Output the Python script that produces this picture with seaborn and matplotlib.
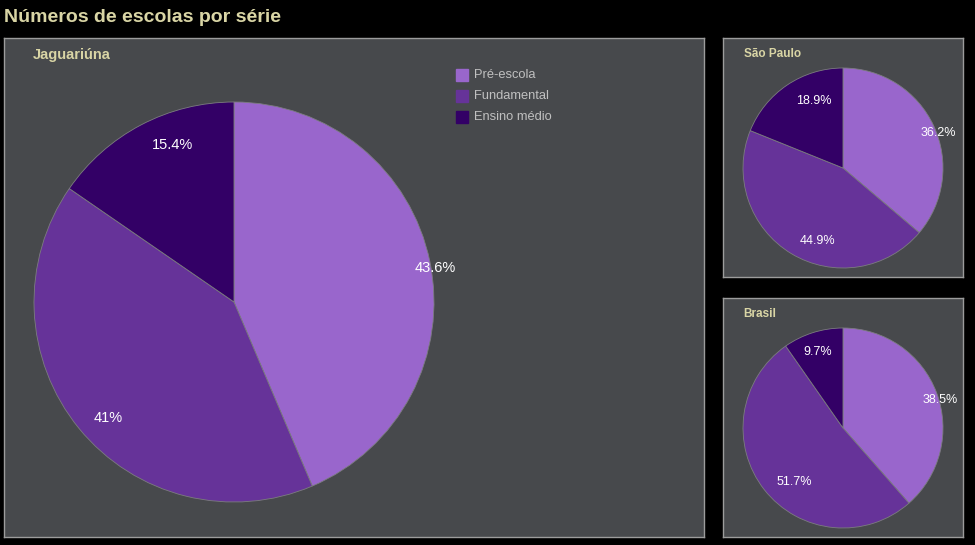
import matplotlib
matplotlib.use("Agg")
import matplotlib.pyplot as plt
import seaborn as sns
import numpy as np

categories = ["Pré-escola", "Fundamental", "Ensino médio"]
regions = ["Jaguariúna", "São Paulo", "Brasil"]
jaguariuna = [43.6, 41.0, 15.4]
sao_paulo = [36.2, 44.9, 18.9]
brasil = [38.5, 51.7, 9.7]
pct_labels = {
    "Jaguariúna": ["43.6%", "41%", "15.4%"],
    "São Paulo": ["36.2%", "44.9%", "18.9%"],
    "Brasil": ["38.5%", "51.7%", "9.7%"],
}

sns.set_theme(style="dark")
plt.rcParams["font.family"] = ["Liberation Sans", "DejaVu Sans"]

colors = sns.color_palette(["#9966cc", "#663399", "#330066"])
BG = "#000000"
PANEL = "#47494c"
BORDER = "#9c9c9c"
TITLE_C = "#d9d5a5"

W, H = 975, 545
fig = plt.figure(figsize=(W / 100, H / 100), dpi=100, facecolor=BG)

def panel(x0, y0, x1, y1):
    return fig.add_axes([x0 / W, (H - y1) / H, (x1 - x0) / W, (y1 - y0) / H])

def finish(ax, w, h):
    ax.set_facecolor(PANEL)
    ax.set_frame_on(True)
    ax.set_aspect("auto")
    ax.set_xlim(0, w)
    ax.set_ylim(0, h)
    ax.set_xticks([])
    ax.set_yticks([])
    ax.grid(False)
    for s in ax.spines.values():
        s.set_visible(True)
        s.set_color(BORDER)
        s.set_linewidth(1)

def draw_pie(ax, values, labels, center, radius, dists, offs, fs):
    ax.pie(values, colors=colors, startangle=90, counterclock=False,
           center=center, radius=radius, normalize=True, frame=True,
           wedgeprops=dict(edgecolor="#7c7c80", linewidth=0.6))
    total = sum(values)
    cum = 0
    for v, lab, d, (ox, oy) in zip(values, labels, dists, offs):
        mid = np.deg2rad(90 - (cum + v / 2) / total * 360)
        cum += v
        ax.text(center[0] + d * radius * np.cos(mid) + ox,
                center[1] + d * radius * np.sin(mid) - oy,
                lab, color="white", fontsize=fs, ha="center", va="center")

# main panel
ax1 = panel(4, 38, 704, 537)
draw_pie(ax1, jaguariuna, pct_labels["Jaguariúna"], (230, 235), 200,
         [1.02, 0.85, 0.85], [(1, 7), (6, 8), (18, -7)], 10.5)
finish(ax1, 700, 499)
ax1.text(29, 482, "Jaguariúna", color=TITLE_C, fontsize=10.5, fontweight="bold", ha="left", va="center")
for i, c in enumerate(categories):
    y = 462 - i * 21
    ax1.add_patch(plt.Rectangle((452, y - 6), 12, 12, color=colors[i]))
    ax1.text(470, y, c, color="#c0c0c0", fontsize=9.3, ha="left", va="center")

ax2 = panel(723, 38, 963, 277)
draw_pie(ax2, sao_paulo, pct_labels["São Paulo"], (120, 109), 100,
         [1.0, 0.75, 0.76], [(5, 7), (13, 9), (13, -4)], 9)
finish(ax2, 240, 239)
ax2.text(21, 223, "São Paulo", color=TITLE_C, fontsize=8.5, fontweight="bold", ha="left", va="center")

ax3 = panel(723, 298, 963, 537)
draw_pie(ax3, brasil, pct_labels["Brasil"], (120, 109), 100,
         [1.0, 0.72, 0.8], [(4, 7), (8, 10), (-1, 0)], 9)
finish(ax3, 240, 239)
ax3.text(20, 223, "Brasil", color=TITLE_C, fontsize=8.5, fontweight="bold", ha="left", va="center")

fig.text(4 / W, 1 - 17 / H, "Números de escolas por série", color=TITLE_C, fontsize=14,
         fontweight="bold", ha="left", va="center")

fig.savefig("out.png", dpi=100, facecolor=BG)
